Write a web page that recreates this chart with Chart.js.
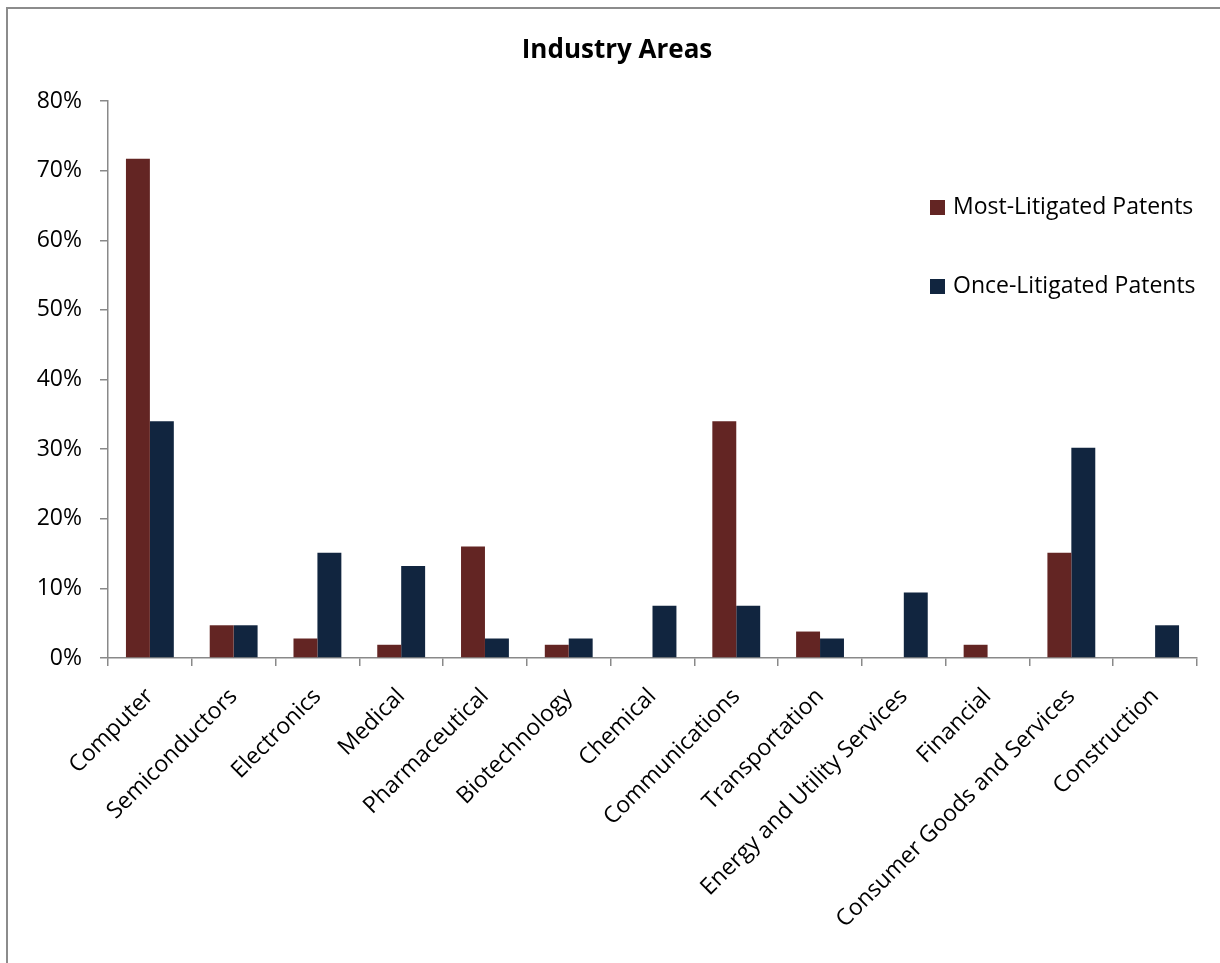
<!DOCTYPE html>
<html>
<head>
<meta charset="utf-8">
<script src="https://cdn.jsdelivr.net/npm/chart.js@4.4.1/dist/chart.umd.min.js"></script>
<style>
  html, body { margin: 0; padding: 0; background: #fff; overflow: hidden; }
  #frame { position: absolute; left: 6px; top: 7px; width: 1400px; height: 1200px;
           border-left: 2.5px solid #8c8c8c; border-top: 2.5px solid #8c8c8c; box-sizing: border-box; }
  #wrap { position: absolute; left: 0; top: 0; width: 1234px; height: 963px; }
  #legend { position: absolute; left: 930px; top: 190px; font-family: "Open Sans", sans-serif;
            font-size: 23px; color: #000; }
  .item { position: absolute; left: 0; white-space: nowrap; height: 30px; line-height: 30px; }
  .sw { display: inline-block; width: 15px; height: 15px; margin-right: 8px; vertical-align: -1px; }
</style>
</head>
<body>
<div id="frame"></div>
<div id="wrap"><canvas id="c" width="1234" height="963"></canvas></div>
<div id="legend"></div>
<script>
const categories = ["Computer", "Semiconductors", "Electronics", "Medical", "Pharmaceutical",
  "Biotechnology", "Chemical", "Communications", "Transportation", "Energy and Utility Services",
  "Financial", "Consumer Goods and Services", "Construction"];
const seriesNames = ["Most-Litigated Patents", "Once-Litigated Patents"];
const mostLitigated = [71.7, 4.7, 2.8, 1.9, 16.0, 1.9, 0, 34.0, 3.8, 0, 1.9, 15.1, 0];
const onceLitigated = [34.0, 4.7, 15.1, 13.2, 2.8, 2.8, 7.5, 7.5, 2.8, 9.4, 0, 30.2, 4.7];
const yTicks = [0, 10, 20, 30, 40, 50, 60, 70, 80];
const colors = ["#632523", "#11253F"];

const FONT = "'Open Sans', sans-serif";
const axisColor = "#898989";

const chart = new Chart(document.getElementById("c"), {
  type: "bar",
  data: {
    labels: categories,
    datasets: [
      { label: seriesNames[0], data: mostLitigated, backgroundColor: colors[0],
        categoryPercentage: 2 / 3.5, barPercentage: 1.0 },
      { label: seriesNames[1], data: onceLitigated, backgroundColor: colors[1],
        categoryPercentage: 2 / 3.5, barPercentage: 1.0 }
    ]
  },
  options: {
    responsive: false,
    animation: false,
    devicePixelRatio: 1,
    layout: { padding: { left: 0, right: 0, top: 0, bottom: 0 } },
    plugins: {
      legend: { display: false },
      tooltip: { enabled: false },
      title: {
        display: true,
        text: "Industry Areas",
        color: "#000",
        font: { family: FONT, size: 26, weight: "bold", lineHeight: 1.2 },
        padding: { top: 34.5, bottom: 35.3 }
      }
    },
    scales: {
      x: {
        grid: { display: true, drawOnChartArea: false, drawTicks: true, tickLength: 8,
                color: axisColor, lineWidth: 1.5, offset: true },
        border: { display: true, color: axisColor, width: 1.5 },
        ticks: { color: "#000", font: { family: FONT, size: 23 }, minRotation: 45, maxRotation: 45,
                 autoSkip: false, padding: 17 },
        afterFit: (s) => { s.height = 963 - 658; }
      },
      y: {
        min: 0, max: 80,
        afterBuildTicks: (s) => { s.ticks = yTicks.map(v => ({ value: v })); },
        grid: { display: true, drawOnChartArea: false, drawTicks: true, tickLength: 8,
                color: axisColor, lineWidth: 1.5 },
        border: { display: true, color: axisColor, width: 1.5 },
        ticks: { color: "#000", font: { family: FONT, size: 23 }, padding: 18,
                 callback: (v) => v + "%" },
        afterFit: (s) => { s.width = 108; }
      },
      spacer: {
        position: "right",
        display: true,
        grid: { display: false },
        border: { display: false },
        ticks: { display: false },
        afterFit: (s) => { s.width = 37; }
      }
    }
  }
});

const lg = document.getElementById("legend");
seriesNames.forEach((n, i) => {
  const d = document.createElement("div");
  d.className = "item";
  d.style.top = (i * 79) + "px";
  d.innerHTML = '<span class="sw" style="background:' + colors[i] + '"></span>' + n;
  lg.appendChild(d);
});
</script>
</body>
</html>
